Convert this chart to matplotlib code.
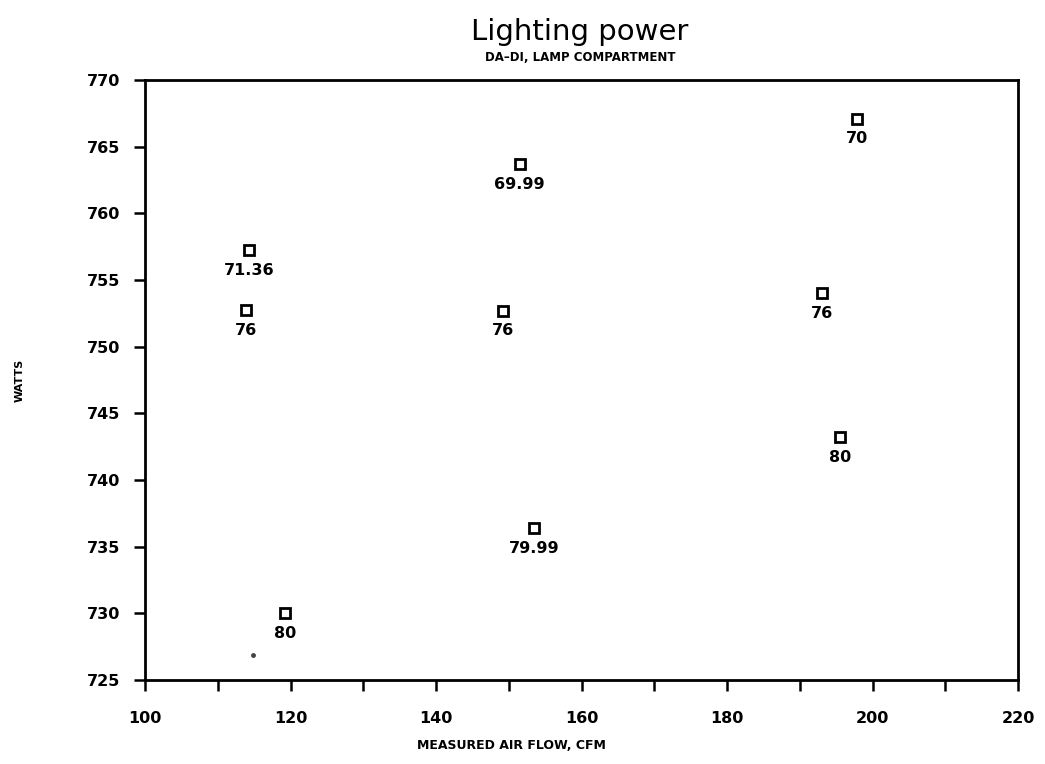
import matplotlib
matplotlib.use("Agg")
import matplotlib.pyplot as plt
from matplotlib.ticker import MultipleLocator

# Measured air flow (CFM) and lighting power (W), labelled by test setpoint
air_flow = [114.3, 113.9, 119.2, 151.5, 149.2, 153.5, 197.9, 193.1, 195.5]
watts = [757.25, 752.75, 730.0, 763.7, 752.7, 736.4, 767.1, 754.0, 743.2]
point_labels = ["71.36", "76", "80", "69.99", "76", "79.99", "70", "76", "80"]

# stray plotter dot
speck_x = [114.8]
speck_y = [726.9]

x_ticks = [100, 120, 140, 160, 180, 200, 220]
y_ticks = [725, 730, 735, 740, 745, 750, 755, 760, 765, 770]

fig = plt.figure(figsize=(10.45, 7.64), dpi=100)
ax = fig.add_axes([0.1388, 0.110, 0.8354, 0.785])

ax.plot(air_flow, watts, linestyle="none", marker="s", markersize=7.5,
        markerfacecolor="white", markeredgecolor="black", markeredgewidth=2)
ax.plot(speck_x, speck_y, linestyle="none", marker="o", markersize=2.5,
        color="#444444")

for x, y, t in zip(air_flow, watts, point_labels):
    ax.annotate(t, (x, y), xytext=(0, -9), textcoords="offset points",
                ha="center", va="top", fontsize=11.5, fontweight="bold")

ax.set_xlim(100, 220)
ax.set_ylim(725, 770)
ax.set_xticks(x_ticks)
ax.set_yticks(y_ticks)
ax.xaxis.set_minor_locator(MultipleLocator(10))
ax.tick_params(axis="both", which="both", direction="out", width=1.8,
               labelsize=11.5)
ax.tick_params(axis="y", which="major", length=8, pad=10)
ax.tick_params(axis="x", which="major", length=8, pad=14)
ax.tick_params(axis="x", which="minor", length=8)
for lab in ax.get_xticklabels() + ax.get_yticklabels():
    lab.set_fontweight("bold")
for s in ax.spines.values():
    s.set_linewidth(2)

ax.set_xlabel("MEASURED AIR FLOW, CFM", fontsize=9, fontweight="bold")
ax.xaxis.set_label_coords(0.42, -0.098)
ax.set_ylabel("WATTS", fontsize=8, fontweight="bold")
ax.yaxis.set_label_coords(-0.138, 0.5)

fig.text(0.555, 0.958, "Lighting power", ha="center", va="center",
         fontsize=21)
fig.text(0.555, 0.925, "DA\u2013DI, LAMP COMPARTMENT", ha="center",
         va="center", fontsize=8.5, fontweight="bold")

fig.savefig("out.png", dpi=100, facecolor="white")
